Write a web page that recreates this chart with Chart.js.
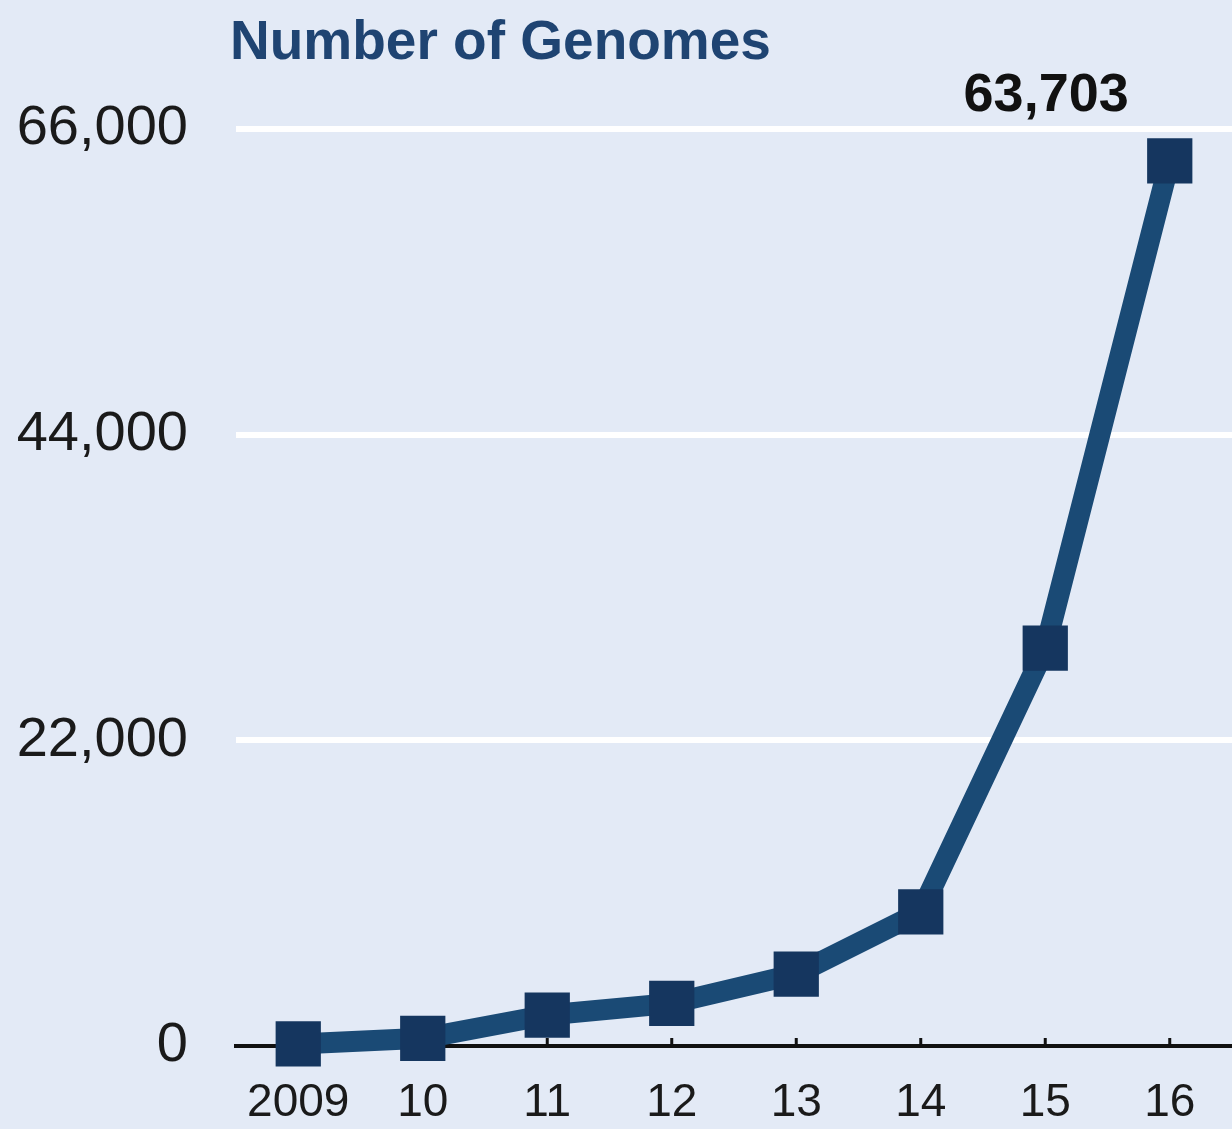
<!DOCTYPE html>
<html lang="en">
<head>
    <meta charset="UTF-8">
    <title>Number of Genomes</title>
    <script src="https://cdn.jsdelivr.net/npm/chart.js@4.4.0/dist/chart.umd.min.js"></script>
    <style>
        html, body { margin: 0; padding: 0; background: #e3eaf6; }
        #wrap { width: 1232px; height: 1129px; }
    </style>
</head>
<body>
    <div id="wrap"><canvas id="chart" width="1232" height="1129"></canvas></div>
    <script>
        const years = ['2009', '10', '11', '12', '13', '14', '15', '16'];
        const genomes = [150, 550, 2230, 3070, 5180, 9660, 28630, 63703];
        const yTicks = [0, 22000, 44000, 66000];
        const chartTitle = 'Number of Genomes';

        const font = '"Liberation Sans", Arial, Helvetica, sans-serif';

        // background, title, small x tick marks and the end label
        const extras = {
            id: 'extras',
            beforeDraw(chart) {
                const ctx = chart.ctx;
                ctx.save();
                ctx.fillStyle = '#e3eaf6';
                ctx.fillRect(0, 0, chart.width, chart.height);
                ctx.fillStyle = '#1f4472';
                ctx.font = 'bold 55px ' + font;
                ctx.textAlign = 'left';
                ctx.textBaseline = 'alphabetic';
                ctx.fillText(chartTitle, chart.chartArea.left - 6, 59);
                ctx.restore();
            },
            beforeDatasetsDraw(chart) {
                const ctx = chart.ctx;
                const x = chart.scales.x;
                const bottom = chart.chartArea.bottom;
                ctx.save();
                ctx.strokeStyle = '#111';
                ctx.lineWidth = 3;
                x.ticks.forEach((t, i) => {
                    const px = x.getPixelForTick(i);
                    ctx.beginPath();
                    ctx.moveTo(px, bottom);
                    ctx.lineTo(px, bottom - 8);
                    ctx.stroke();
                });
                ctx.restore();
            },
            afterDatasetsDraw(chart) {
                const ctx = chart.ctx;
                const pts = chart.getDatasetMeta(0).data;
                const last = pts[pts.length - 1];
                ctx.save();
                ctx.fillStyle = '#111';
                ctx.font = 'bold 54px ' + font;
                ctx.textAlign = 'right';
                ctx.textBaseline = 'alphabetic';
                ctx.fillText(genomes[genomes.length - 1].toLocaleString('en-US'), last.x - 41, last.y - 50);
                ctx.restore();
            }
        };

        new Chart(document.getElementById('chart'), {
            type: 'line',
            data: {
                labels: years,
                datasets: [{
                    label: chartTitle,
                    data: genomes,
                    borderColor: '#1a4a75',
                    borderWidth: 21,
                    borderJoinStyle: 'round',
                    pointStyle: 'rect',
                    pointRadius: 32,
                    pointBackgroundColor: '#15365f',
                    pointBorderWidth: 0,
                    pointHoverRadius: 32,
                    tension: 0,
                    clip: false
                }]
            },
            options: {
                responsive: false,
                animation: false,
                layout: { autoPadding: false, padding: { top: 129, right: 0, left: 0, bottom: 0 } },
                plugins: {
                    legend: { display: false },
                    title: { display: false },
                    tooltip: { enabled: false }
                },
                scales: {
                    x: {
                        offset: true,
                        grid: { display: false, drawTicks: false },
                        border: { display: true, color: '#111', width: 4 },
                        ticks: {
                            color: '#1a1a1a',
                            font: { family: font, size: 46 },
                            padding: 30,
                            maxRotation: 0,
                            autoSkip: false
                        },
                        afterFit(scale) {
                            scale.height = 83;
                            scale.paddingLeft = 0;
                            scale.paddingRight = 0;
                        }
                    },
                    y: {
                        min: 0,
                        max: 66000,
                        afterBuildTicks(scale) {
                            scale.ticks = yTicks.map(v => ({ value: v }));
                        },
                        grid: {
                            drawTicks: false,
                            lineWidth: 6,
                            color: c => c.tick && c.tick.value === 0 ? 'rgba(0,0,0,0)' : '#ffffff'
                        },
                        border: { display: false },
                        ticks: {
                            color: '#1a1a1a',
                            font: { family: font, size: 56 },
                            padding: 48,
                            callback: v => v.toLocaleString('en-US')
                        },
                        afterFit(scale) { scale.width = 236; }
                    }
                }
            },
            plugins: [extras]
        });
    </script>
</body>
</html>
